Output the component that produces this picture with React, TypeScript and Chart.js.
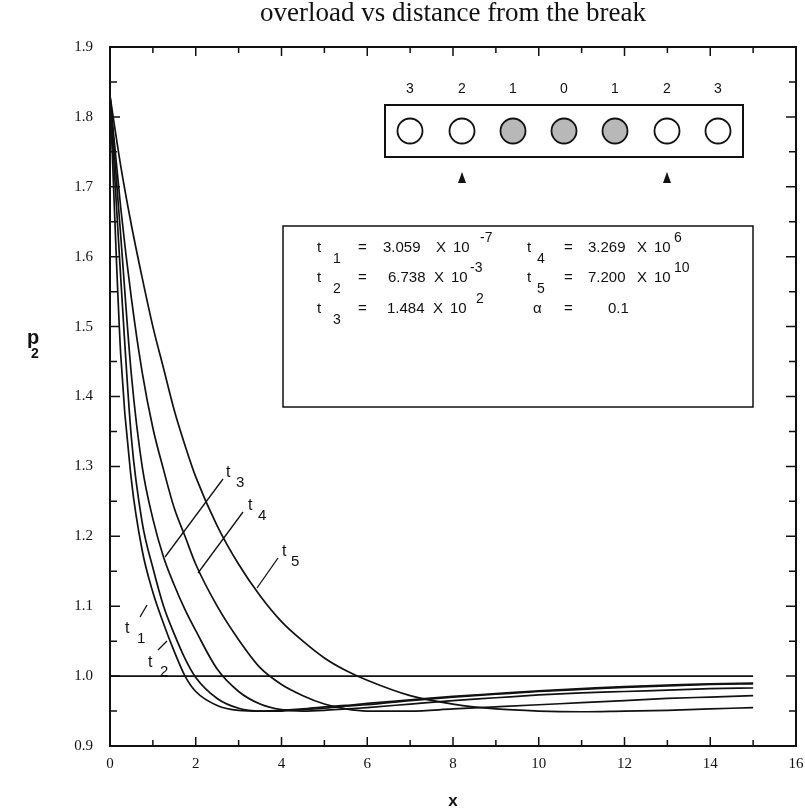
import React, { useEffect, useRef } from 'react';
import { Chart, registerables } from 'chart.js';

Chart.register(...registerables);

// ---- data ----
const X_VALUES = [0, 0.25, 0.5, 0.75, 1, 1.25, 1.5, 1.75, 2, 2.5, 3, 3.5, 4, 4.5, 5, 5.5, 6, 7, 8, 9, 10, 11, 12, 13, 14, 15];
const T1 = [1.83, 1.46, 1.28, 1.18, 1.12, 1.075, 1.035, 1.0, 0.978, 0.958, 0.951, 0.95, 0.951, 0.953, 0.956, 0.958, 0.961, 0.966, 0.971, 0.975, 0.979, 0.982, 0.985, 0.987, 0.989, 0.99];
const T2 = [1.83, 1.57, 1.34, 1.22, 1.155, 1.1, 1.06, 1.025, 0.998, 0.968, 0.954, 0.95, 0.95, 0.952, 0.954, 0.957, 0.959, 0.965, 0.97, 0.974, 0.978, 0.981, 0.984, 0.986, 0.988, 0.989];
const T3 = [1.83, 1.63, 1.43, 1.3, 1.225, 1.17, 1.13, 1.095, 1.065, 1.01, 0.978, 0.96, 0.952, 0.95, 0.951, 0.953, 0.955, 0.96, 0.965, 0.969, 0.973, 0.976, 0.978, 0.98, 0.982, 0.983];
const T4 = [1.83, 1.67, 1.54, 1.435, 1.355, 1.295, 1.24, 1.2, 1.16, 1.1, 1.052, 1.012, 0.988, 0.972, 0.96, 0.953, 0.95, 0.95, 0.953, 0.956, 0.959, 0.962, 0.965, 0.968, 0.97, 0.972];
const T5 = [1.83, 1.73, 1.645, 1.57, 1.5, 1.44, 1.38, 1.33, 1.285, 1.215, 1.16, 1.115, 1.078, 1.05, 1.026, 1.008, 0.994, 0.972, 0.96, 0.953, 0.95, 0.949, 0.95, 0.951, 0.953, 0.955];
const REF_LINE_X = [0, 15];
const REF_LINE_Y = [1.0, 1.0];

const X_TICKS = [0, 2, 4, 6, 8, 10, 12, 14, 16];
const Y_TICKS = [0.9, 1.0, 1.1, 1.2, 1.3, 1.4, 1.5, 1.6, 1.7, 1.8, 1.9];
const TITLE = 'overload vs distance from the break';

const CHAIN_LABELS = ['3', '2', '1', '0', '1', '2', '3'];
const CHAIN_BROKEN = [false, false, true, true, true, false, false];

// parameter table: [name, subscript, mantissa, exponent]
const PARAMS_LEFT = [
  ['t', '1', '3.059', '-7'],
  ['t', '2', '6.738', '-3'],
  ['t', '3', '1.484', '2'],
];
const PARAMS_RIGHT = [
  ['t', '4', '3.269', '6'],
  ['t', '5', '7.200', '10'],
];
const ALPHA_VALUE = '0.1';

const SERIF = "'Liberation Serif', 'Times New Roman', serif";
const SANS = "'Liberation Sans', Arial, Helvetica, sans-serif";

function pts(ys: number[], xs: number[]) {
  return xs.map((x, i) => ({ x, y: ys[i] }));
}

function sub(ctx: CanvasRenderingContext2D, t: string, s: string, x: number, y: number, dx: number, dy: number, size = 15) {
  ctx.font = `${size}px ${SANS}`;
  ctx.textAlign = 'left';
  ctx.textBaseline = 'alphabetic';
  ctx.fillText(t, x, y);
  ctx.font = `${size - 1}px ${SANS}`;
  ctx.fillText(s, x + dx, y + dy);
}

function sci(ctx: CanvasRenderingContext2D, m: string, e: string, pos: number[], y: number) {
  const [xm, xX, x10, xe] = pos;
  ctx.font = `15px ${SANS}`;
  ctx.textAlign = 'left';
  ctx.fillText(m, xm, y);
  ctx.fillText('X', xX, y);
  ctx.fillText('10', x10, y);
  ctx.font = `14px ${SANS}`;
  ctx.fillText(e, xe, y - 10);
}

const decor = {
  id: 'decor',
  afterDatasetsDraw(chart: any) {
    const ctx: CanvasRenderingContext2D = chart.ctx;
    const { left, right, top, bottom } = chart.chartArea;
    const xs = chart.scales.x;
    const ys = chart.scales.y;
    ctx.save();
    ctx.strokeStyle = '#111';
    ctx.fillStyle = '#111';

    // frame
    ctx.lineWidth = 2;
    ctx.strokeRect(left, top, right - left, bottom - top);

    // x ticks (every 1, major every 2) bottom and top, inward
    ctx.lineWidth = 1.5;
    for (let v = 1; v < 16; v++) {
      const px = xs.getPixelForValue(v);
      const len = v % 2 === 0 ? 9 : 6;
      ctx.beginPath();
      ctx.moveTo(px, bottom);
      ctx.lineTo(px, bottom - len);
      ctx.moveTo(px, top);
      ctx.lineTo(px, top + len);
      ctx.stroke();
    }
    // y ticks (every 0.05, major every 0.1) left and right, inward
    for (let k = 1; k < 20; k++) {
      const v = 0.9 + k * 0.05;
      const py = ys.getPixelForValue(v);
      const len = k % 2 === 0 ? 10 : 7;
      ctx.beginPath();
      ctx.moveTo(left, py);
      ctx.lineTo(left + len, py);
      ctx.moveTo(right, py);
      ctx.lineTo(right - len, py);
      ctx.stroke();
    }

    // tick labels
    ctx.font = `15px ${SERIF}`;
    ctx.textAlign = 'center';
    ctx.textBaseline = 'middle';
    X_TICKS.forEach((v) => {
      ctx.fillText(String(v), xs.getPixelForValue(v), bottom + 18);
    });
    ctx.textAlign = 'right';
    Y_TICKS.forEach((v) => {
      ctx.fillText(v.toFixed(1), left - 17, ys.getPixelForValue(v));
    });

    // title
    ctx.font = `27px ${SERIF}`;
    ctx.textAlign = 'center';
    ctx.textBaseline = 'alphabetic';
    ctx.fillText(TITLE, (left + right) / 2, 21);

    // axis titles
    ctx.font = `bold 20px ${SANS}`;
    ctx.fillText('p', 33, 344);
    ctx.font = `bold 14px ${SANS}`;
    ctx.fillText('2', 35, 358);
    ctx.font = `bold 17px ${SANS}`;
    ctx.fillText('x', (left + right) / 2, 806);

    // chain inset
    ctx.lineWidth = 2;
    ctx.strokeRect(385, 105, 358, 52);
    const cx = [410, 462, 513, 564, 615, 667, 718];
    ctx.font = `14px ${SANS}`;
    ctx.textAlign = 'center';
    cx.forEach((x, i) => {
      ctx.fillStyle = '#111';
      ctx.fillText(CHAIN_LABELS[i], x, 93);
      ctx.beginPath();
      ctx.arc(x, 131, 12.5, 0, Math.PI * 2);
      if (CHAIN_BROKEN[i]) {
        ctx.fillStyle = '#b8b8b8';
        ctx.fill();
      }
      ctx.lineWidth = 1.8;
      ctx.stroke();
    });
    ctx.fillStyle = '#111';
    [462, 667].forEach((x) => {
      ctx.beginPath();
      ctx.moveTo(x - 4, 183);
      ctx.lineTo(x + 4, 183);
      ctx.lineTo(x, 172);
      ctx.closePath();
      ctx.fill();
    });

    // parameter inset
    ctx.lineWidth = 1.5;
    ctx.strokeRect(283, 226, 470, 181);
    const rowBase = [252, 282, 313];
    const leftPos = [
      [383, 436, 453, 480],
      [388, 434, 451, 470],
      [387, 433, 450, 476],
    ];
    const rightPos = [588, 637, 654, 674];
    PARAMS_LEFT.forEach(([t, s, m, e], i) => {
      const b = rowBase[i];
      sub(ctx, t, s, 317, b, 16, 11);
      ctx.font = `15px ${SANS}`;
      ctx.fillText('=', 358, b);
      sci(ctx, m, e, leftPos[i], b);
    });
    PARAMS_RIGHT.forEach(([t, s, m, e], i) => {
      const b = rowBase[i];
      sub(ctx, t, s, 527, b, 10, 11);
      ctx.font = `15px ${SANS}`;
      ctx.fillText('=', 564, b);
      sci(ctx, m, e, rightPos, b);
    });
    ctx.font = `15px ${SANS}`;
    ctx.fillText('\u03b1', 533, 313);
    ctx.fillText('=', 564, 313);
    ctx.fillText(ALPHA_VALUE, 608, 313);

    // curve labels and leaders
    ctx.lineWidth = 1.3;
    const leaders = [
      [165, 557, 223, 479],
      [198, 573, 243, 512],
      [257, 588, 278, 558],
      [140, 617, 147, 605],
      [158, 650, 167, 641],
    ];
    leaders.forEach(([a, b, c, d]) => {
      ctx.beginPath();
      ctx.moveTo(a, b);
      ctx.lineTo(c, d);
      ctx.stroke();
    });
    sub(ctx, 't', '3', 226, 477, 10, 10, 16);
    sub(ctx, 't', '4', 248, 510, 10, 10, 16);
    sub(ctx, 't', '5', 282, 556, 9, 10, 16);
    sub(ctx, 't', '1', 125, 633, 12, 10, 16);
    sub(ctx, 't', '2', 148, 667, 12, 9, 16);

    ctx.restore();
  },
};

export default function App() {
  const ref = useRef<HTMLCanvasElement | null>(null);
  useEffect(() => {
    document.body.style.margin = '0';
    document.body.style.overflow = 'hidden';
    const canvas = ref.current;
    if (!canvas) return;
    const line = (ys: number[], xs: number[] = X_VALUES) => ({
      data: pts(ys, xs),
      borderColor: '#111',
      borderWidth: 1.7,
      pointRadius: 0,
      fill: false,
      cubicInterpolationMode: 'monotone' as const,
    });
    const chart = new Chart(canvas, {
      type: 'line',
      data: {
        datasets: [line(T1), line(T2), line(T3), line(T4), line(T5), line(REF_LINE_Y, REF_LINE_X)],
      },
      options: {
        animation: false,
        responsive: false,
        devicePixelRatio: 1,
        layout: { padding: { left: 110, right: 9, top: 47, bottom: 64 } },
        scales: {
          x: { type: 'linear', min: 0, max: 16, display: false },
          y: { type: 'linear', min: 0.9, max: 1.9, display: false },
        },
        plugins: { legend: { display: false }, tooltip: { enabled: false }, title: { display: false } },
      },
      plugins: [decor],
    });
    return () => chart.destroy();
  }, []);
  return (
    <div style={{ width: 805, height: 810, overflow: 'hidden', background: '#fff' }}>
      <canvas ref={ref} width={805} height={810} style={{ display: 'block' }} />
    </div>
  );
}
